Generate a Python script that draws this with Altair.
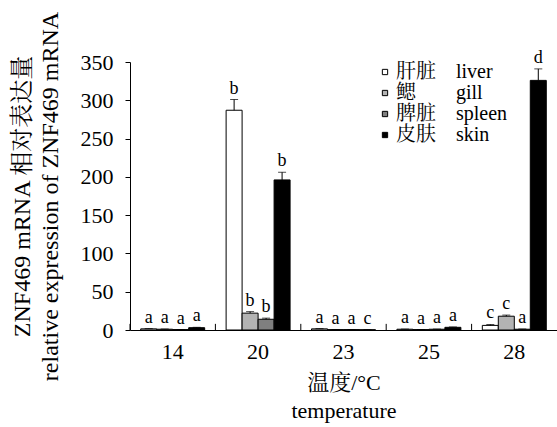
import altair as alt
import pandas as pd

temps = ["14", "20", "23", "25", "28"]
tissues = ["liver", "gill", "spleen", "skin"]

liver = [1.5, 287, 1.5, 1.0, 6]
gill = [1.0, 22, 0.5, 0.5, 18]
spleen = [0.5, 14, 0.5, 1.0, 1.0]
skin = [3.0, 196, 0.3, 3.5, 326]

liver_err = [0.3, 14, 0.3, 0.2, 1.2]
gill_err = [0.2, 2, 0.1, 0.1, 1.5]
spleen_err = [0.1, 1.5, 0.1, 0.2, 0.3]
skin_err = [0.5, 10, 0.1, 0.5, 15]

liver_sig = ["a", "b", "a", "a", "c"]
gill_sig = ["a", "b", "a", "a", "c"]
spleen_sig = ["a", "b", "a", "a", "a"]
skin_sig = ["a", "b", "c", "a", "d"]

y_ticks = [0, 50, 100, 150, 200, 250, 300, 350]

means = {"liver": liver, "gill": gill, "spleen": spleen, "skin": skin}
errs = {"liver": liver_err, "gill": gill_err, "spleen": spleen_err, "skin": skin_err}
sigs = {"liver": liver_sig, "gill": gill_sig, "spleen": spleen_sig, "skin": skin_sig}

rows = []
for t in tissues:
    for i, tp in enumerate(temps):
        rows.append({"temp": tp, "tissue": t, "mean": means[t][i],
                     "upper": means[t][i] + errs[t][i], "sig": sigs[t][i]})
df = pd.DataFrame(rows)
tick_df = pd.DataFrame({"temp": temps})

FONT = "Liberation Serif, Noto Serif CJK SC, Noto Sans CJK SC"
colors = ["#ffffff", "#b3b3b3", "#7f7f7f", "#000000"]

label_expr = ("datum.label == 'liver' ? '肝脏\u3000liver' : "
              "datum.label == 'gill' ? '鳃\u3000\u3000gill' : "
              "datum.label == 'spleen' ? '脾脏\u3000spleen' : "
              "'皮肤\u3000skin'")

xaxis = alt.Axis(title=["温度/°C", "temperature"], labelAngle=0,
                 ticks=False, tickSize=0, labelPadding=11,
                 titlePadding=10, titleLineHeight=28)
yaxis = alt.Axis(values=y_ticks, labelOverlap=False, tickCount=8,
                 title=["ZNF469 mRNA 相对表达量", "relative expression  of ZNF469 mRNA"],
                 titleLineHeight=28, titlePadding=18, titleFontSize=24,
                 titleAlign="center", titleAnchor="middle",
                 tickSize=5, labelPadding=12, grid=False)
yscale = alt.Scale(domain=[0, 350], nice=False)

xenc = alt.X("temp:N", sort=temps,
             scale=alt.Scale(paddingInner=0, paddingOuter=0), axis=xaxis)
xoff = alt.XOffset("tissue:N", sort=tissues,
                   scale=alt.Scale(paddingOuter=0.67, paddingInner=0))

base = alt.Chart(df).encode(x=xenc, xOffset=xoff)

bars = base.mark_bar(stroke="black", strokeWidth=1).encode(
    y=alt.Y("mean:Q", scale=yscale, axis=yaxis),
    color=alt.Color("tissue:N", sort=tissues,
                    scale=alt.Scale(domain=tissues, range=colors),
                    legend=alt.Legend(title=None, orient="none", legendX=245, legendY=0,
                                      symbolType="square", symbolSize=28,
                                      symbolStrokeColor="black", symbolStrokeWidth=1,
                                      labelFontSize=20, labelFont=FONT, labelOffset=1,
                                      rowPadding=1, labelExpr=label_expr)),
)

err = base.mark_rule(color="black", strokeWidth=1).encode(
    y=alt.Y("mean:Q", scale=yscale, axis=yaxis), y2="upper:Q")
caps = base.mark_tick(color="black", size=8, thickness=1).encode(
    y=alt.Y("upper:Q", scale=yscale, axis=yaxis))
letters = base.mark_text(font=FONT, fontSize=18, dy=-6, baseline="alphabetic",
                         color="black").encode(
    y=alt.Y("upper:Q", scale=yscale, axis=yaxis), text="sig:N")

xticks = alt.Chart(tick_df).mark_rule(color="black").encode(
    x=alt.X("temp:N", sort=temps, bandPosition=0, axis=xaxis),
    y=alt.Y(datum=0, scale=yscale, axis=yaxis),
    y2=alt.datum(8),
)

chart = alt.layer(bars, err, caps, letters, xticks).properties(
    width=427, height=268,
    autosize=alt.AutoSizeParams(type="none"),
    padding={"left": 130, "top": 62, "right": 0, "bottom": 97},
    background="white",
).configure_view(stroke=None).configure_axis(
    domainColor="black", tickColor="black", labelColor="black", titleColor="black",
    labelFont=FONT, titleFont=FONT, labelFontSize=22, titleFontSize=22,
    titleFontWeight="normal",
)

chart.save("out.html", embed_options={"renderer": "svg", "actions": False})
